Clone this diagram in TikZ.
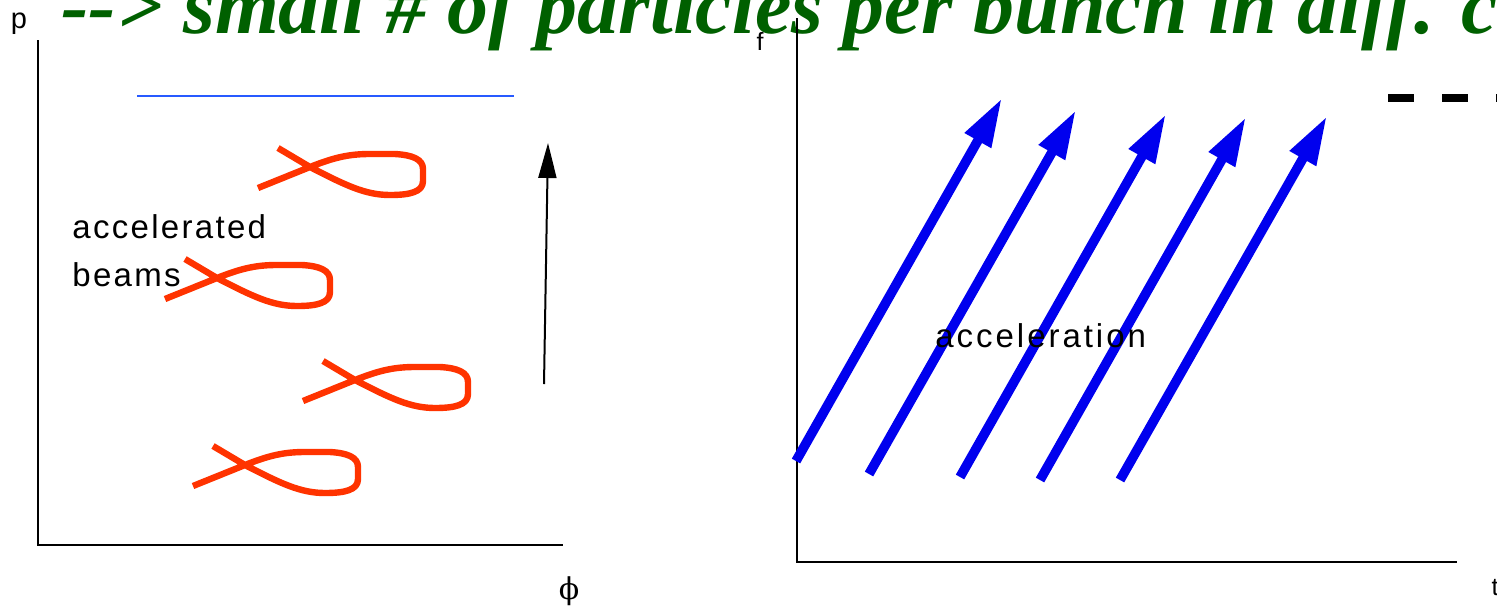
\documentclass[tikz,border=0pt]{standalone}
\usepackage{fontspec}
\usetikzlibrary{arrows.meta}
\newfontfamily\labfont[LetterSpace=7]{Liberation Sans}
\newfontfamily\plainsans{Liberation Sans}
\newfontfamily\phifont{DejaVu Serif}
\newfontfamily\titlefont[BoldItalicFont={Liberation Serif Bold Italic}]{Liberation Serif}
\definecolor{titlegreen}{RGB}{0,96,0}
\definecolor{fishred}{RGB}{255,51,0}
\definecolor{arrowblue}{RGB}{0,0,238}
\definecolor{lineblue}{RGB}{40,90,255}
\tikzset{
  axis/.style={line width=1pt, black},
  fishline/.style={line width=3.2pt, fishred, line join=round},
  bluearrow/.style={line width=4.8pt, arrowblue, -{Triangle[length=24.5pt,width=14pt]}},
  blackarrow/.style={line width=1pt, black, -{Triangle[length=17.5pt,width=9pt]}},
  lab/.style={inner sep=0pt, font=\labfont\fontsize{16.5}{18}\selectfont},
  axlab/.style={inner sep=0pt, font=\plainsans\fontsize{12.5}{14}\selectfont},
  pics/fish/.style={code={
    \draw[fishline] (-52,21) -- (0,0) .. controls (25,-10) and (40,-13) .. (60,-13)
      -- (85,-13) .. controls (102,-12) and (113,-8) .. (113,2)
      -- (113,14) .. controls (113,25) and (100,28) .. (80,28)
      .. controls (55,28) and (35,18) .. (0,0) -- (-32,-19);
  }}
}
\begin{document}
\begin{tikzpicture}[x=0.5pt,y=-0.5pt]
\useasboundingbox (0,0) rectangle (1497,606);
\clip (0,0) rectangle (1497,606);
% title
\node[anchor=base west, inner sep=0pt, text=titlegreen,
      font=\titlefont\bfseries\itshape\fontsize{41}{44}\selectfont] (title) at (61,33)
  {-{}-> small \# of particles per bunch in diff. c};
% left panel
\coordinate (lyt) at (38,40);
\coordinate (lo) at (38,545);
\coordinate (lxe) at (563,545);
\draw[axis] (lyt) -- (lo) -- (lxe);
\node[axlab, anchor=base, font=\plainsans\fontsize{14.5}{16}\selectfont] (plab) at (19,28) {p};
\node[inner sep=0pt, anchor=base, font=\phifont\fontsize{15}{16}\selectfont] (philab) at (569,599) {ϕ};
\coordinate (bl1) at (137,96);
\coordinate (bl2) at (514,96);
\draw[line width=0.8pt, lineblue] (bl1) -- (bl2);
\coordinate (ba1) at (544,384);
\coordinate (ba2) at (548,143);
\draw[blackarrow] (ba1) -- (ba2);
\node[lab, anchor=base west] (acc) at (72,238) {accelerated};
\node[lab, anchor=base west] (beams) at (72,286) {beams};
\pic (fish1) at (310,167) {fish};
\pic (fish2) at (217,278) {fish};
\pic (fish3) at (355,380) {fish};
\pic (fish4) at (245,465) {fish};
% right panel
\coordinate (ryt) at (797,18);
\coordinate (ro) at (797,562);
\coordinate (rxe) at (1457,562);
\draw[axis] (ryt) -- (ro) -- (rxe);
\node[axlab, anchor=base] (flab) at (760,50) {f};
\node[axlab, anchor=base] (tlab) at (1495,595) {t};
\coordinate (d1) at (1388,98);
\coordinate (d2) at (1520,98);
\draw[line width=4pt, dash pattern=on 13pt off 14pt] (d1) -- (d2);
\coordinate (a1s) at (796,461); \coordinate (a1e) at (1002,98);
\coordinate (a2s) at (869,474); \coordinate (a2e) at (1076,110);
\coordinate (a3s) at (960,477); \coordinate (a3e) at (1166,114);
\coordinate (a4s) at (1040,480); \coordinate (a4e) at (1246,117);
\coordinate (a5s) at (1120,480); \coordinate (a5e) at (1327,116);
\draw[bluearrow] (a1s) -- (a1e);
\draw[bluearrow] (a2s) -- (a2e);
\draw[bluearrow] (a3s) -- (a3e);
\draw[bluearrow] (a4s) -- (a4e);
\draw[bluearrow] (a5s) -- (a5e);
\node[lab, anchor=base west, font=\labfont\fontsize{16.5}{18}\selectfont\addfontfeature{LetterSpace=9}] (acctxt) at (935,347) {acceleration};
\end{tikzpicture}
\end{document}
